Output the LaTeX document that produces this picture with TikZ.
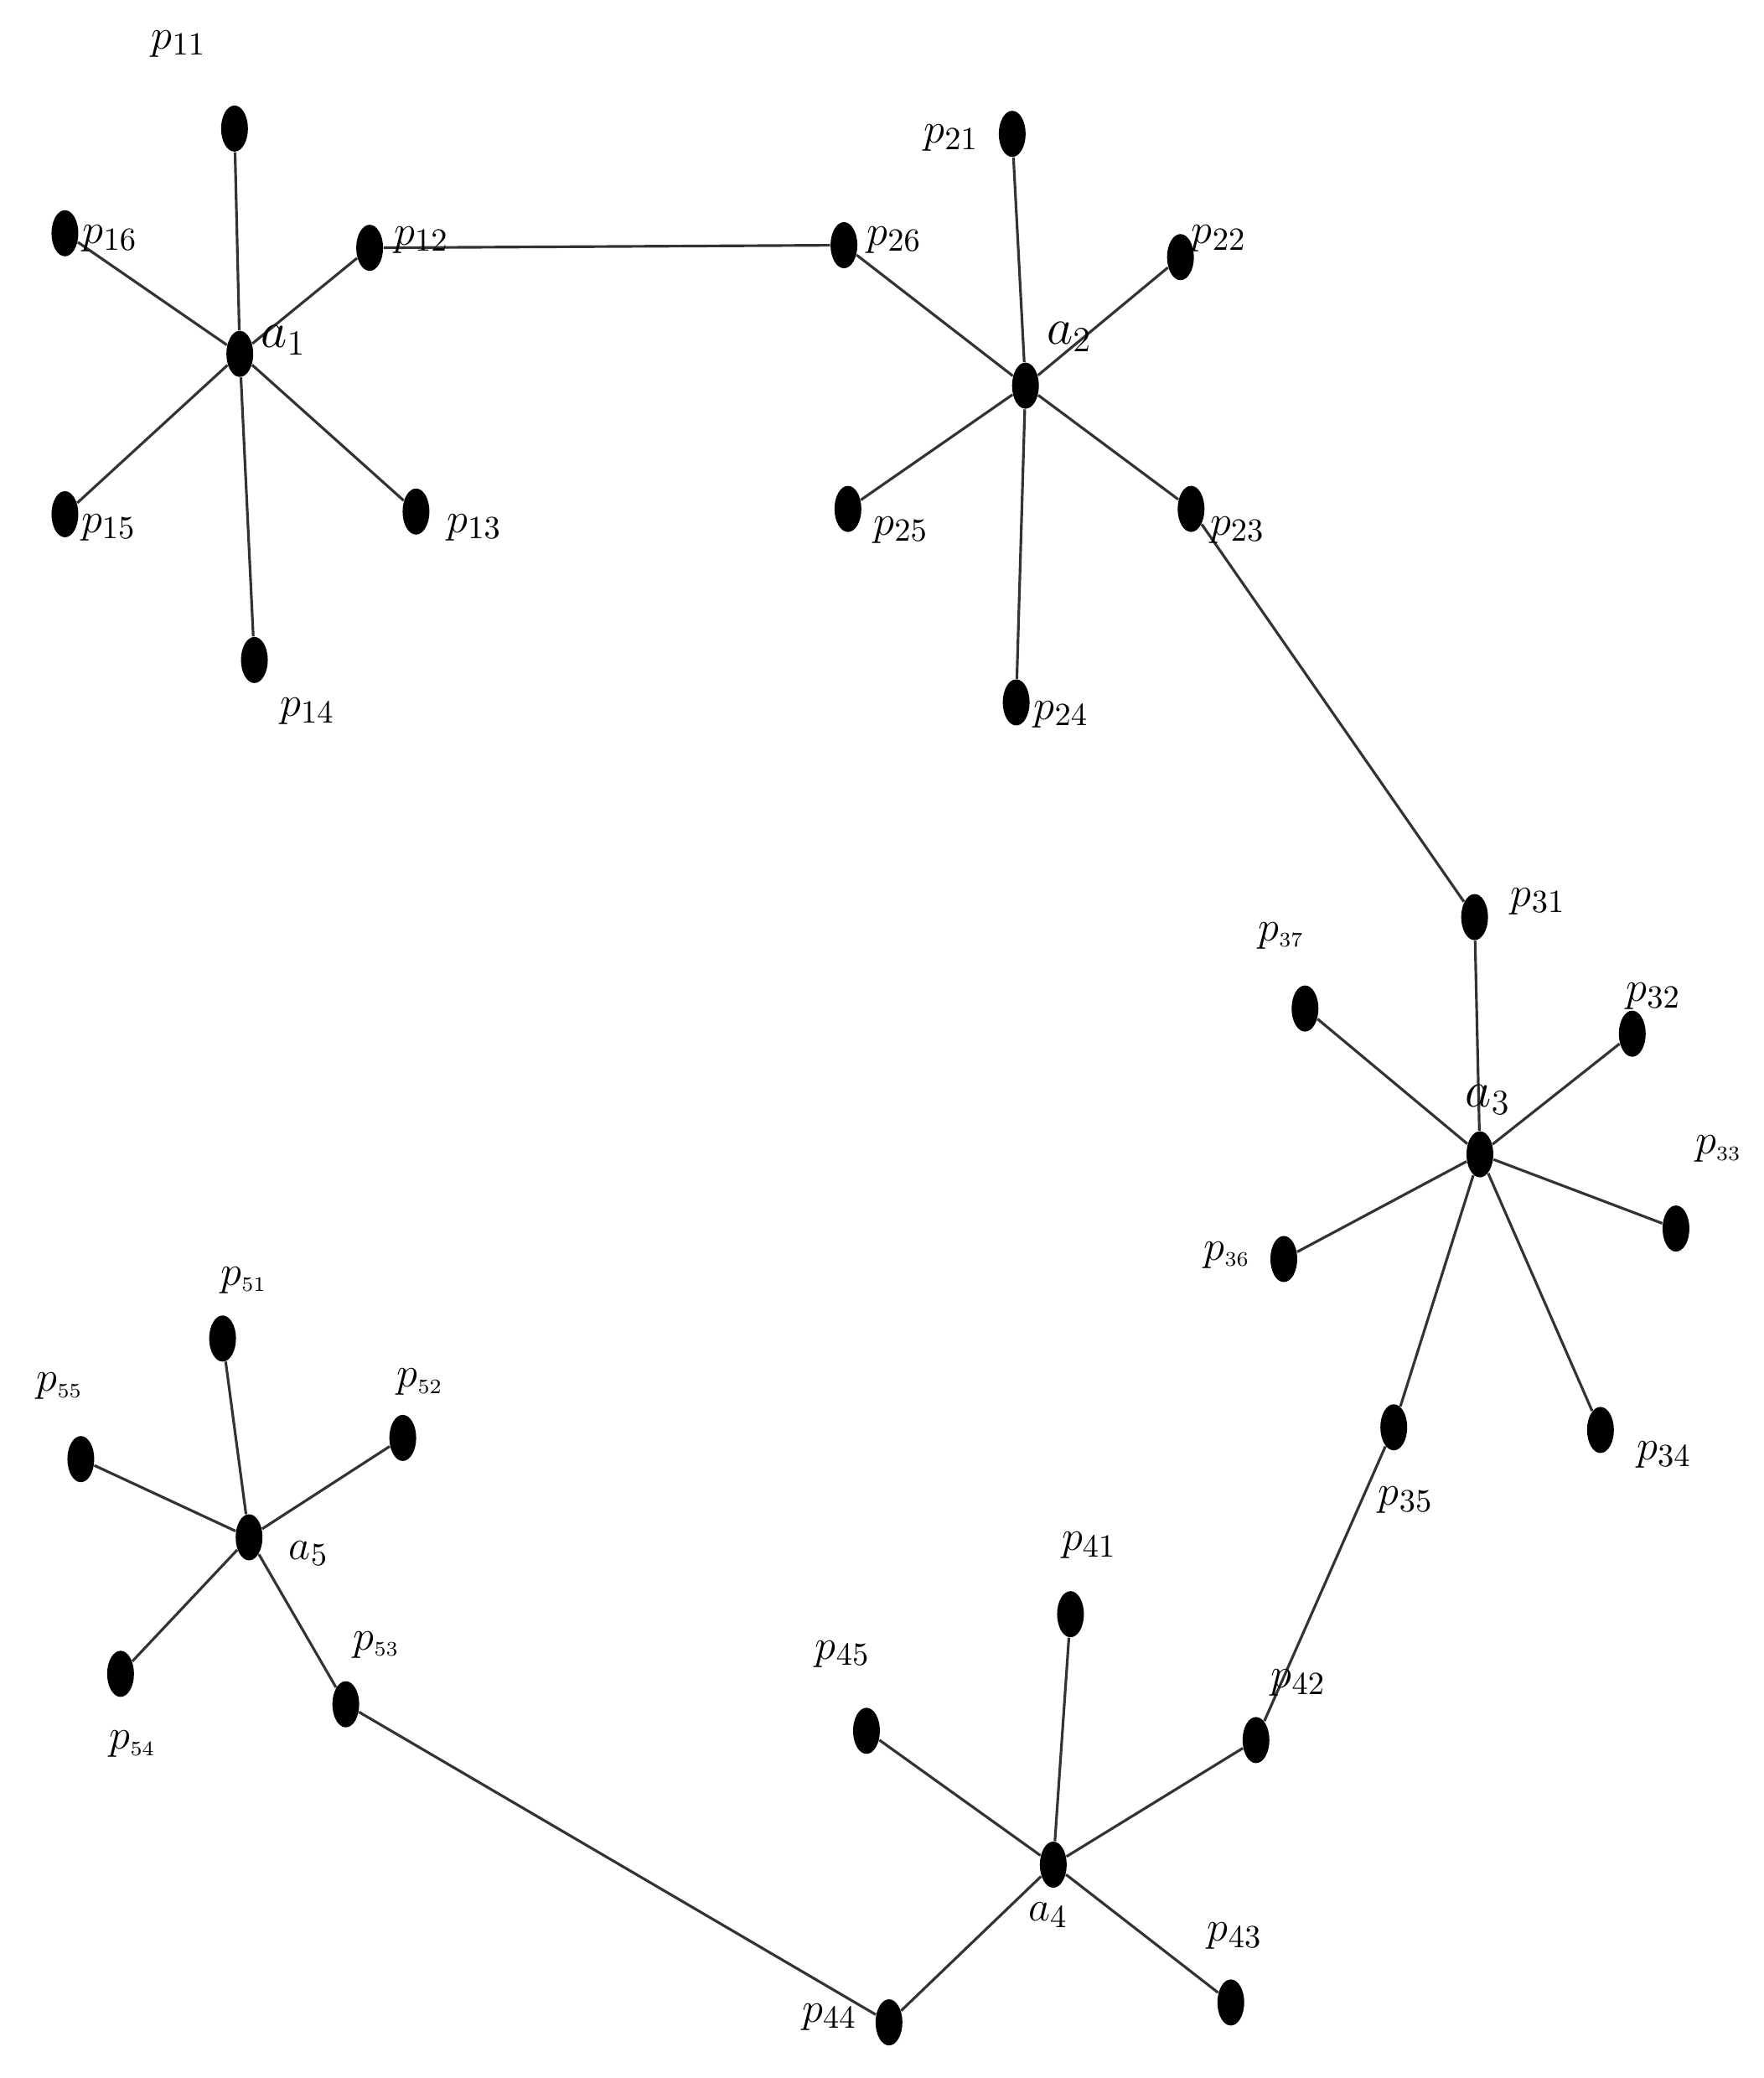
\documentclass[tikz,border=0pt]{standalone}
\usetikzlibrary{shapes.geometric}
\tikzset{
  dot/.style={ellipse,fill=black,draw=none,minimum width=0.32cm,minimum height=0.55cm,inner sep=0pt},
  lbl/.style={font=\fontsize{15}{18}\selectfont,inner sep=0pt},
  albl/.style={font=\fontsize{17}{20}\selectfont,inner sep=0pt},
  edge/.style={line width=0.9pt,black!80}
}
\newcommand{\smallsub}[2]{$#1_{\scriptscriptstyle #2}$}
\begin{document}
\begin{tikzpicture}[x=0.015808cm,y=-0.015808cm]
\useasboundingbox (0,0) rectangle (1331,1568);
% group 1
\node[dot] (a1) at (181,267) {};
\node[dot] (p11) at (177,97) {};
\node[dot] (p12) at (279,187) {};
\node[dot] (p13) at (314,386) {};
\node[dot] (p14) at (192,498) {};
\node[dot] (p15) at (49,388) {};
\node[dot] (p16) at (49,176) {};
% group 2
\node[dot] (a2) at (774,291) {};
\node[dot] (p21) at (764,101) {};
\node[dot] (p22) at (891,194) {};
\node[dot] (p23) at (899,384) {};
\node[dot] (p24) at (767,530) {};
\node[dot] (p25) at (640,384) {};
\node[dot] (p26) at (637,185) {};
% group 3
\node[dot] (a3) at (1117,871) {};
\node[dot] (p31) at (1113,692) {};
\node[dot] (p32) at (1232,780) {};
\node[dot] (p33) at (1265,927) {};
\node[dot] (p34) at (1208,1079) {};
\node[dot] (p35) at (1052,1077) {};
\node[dot] (p36) at (969,950) {};
\node[dot] (p37) at (985,761) {};
% group 4
\node[dot] (a4) at (795,1407) {};
\node[dot] (p41) at (808,1218) {};
\node[dot] (p42) at (948,1313) {};
\node[dot] (p43) at (929,1511) {};
\node[dot] (p44) at (671,1526) {};
\node[dot] (p45) at (654,1306) {};
% group 5
\node[dot] (a5) at (188,1160) {};
\node[dot] (p51) at (168,1010) {};
\node[dot] (p52) at (304,1085) {};
\node[dot] (p53) at (261,1286) {};
\node[dot] (p54) at (91,1263) {};
\node[dot] (p55) at (61,1101) {};
% edges
\foreach \c/\n in {1/6,2/6,3/7,4/5,5/5}{
  \foreach \i in {1,...,\n}{
    \draw[edge] (a\c) -- (p\c\i);
  }
}
\draw[edge] (p12) -- (p26);
\draw[edge] (p23) -- (p31);
\draw[edge] (p35) -- (p42);
\draw[edge] (p44) -- (p53);
% labels
\node[albl] (la1) at (214,257) {$a_1$};
\node[lbl] (l11) at (135,33) {$p_{11}$};
\node[lbl] (l12) at (318,181) {$p_{12}$};
\node[lbl] (l13) at (358,398) {$p_{13}$};
\node[lbl] (l14) at (232,537) {$p_{14}$};
\node[lbl] (l15) at (82,398) {$p_{15}$};
\node[lbl] (l16) at (83,180) {$p_{16}$};
\node[albl] (la2) at (807,254) {$a_2$};
\node[lbl] (l21) at (718,104) {$p_{21}$};
\node[lbl] (l22) at (920,180) {$p_{22}$};
\node[lbl] (l23) at (934,400) {$p_{23}$};
\node[lbl] (l24) at (801,539) {$p_{24}$};
\node[lbl] (l25) at (680,400) {$p_{25}$};
\node[lbl] (l26) at (675,181) {$p_{26}$};
\node[albl] (la3) at (1123,830) {$a_3$};
\node[lbl] (l31) at (1161,680) {$p_{31}$};
\node[lbl] (l32) at (1248,752) {$p_{32}$};
\node[lbl] (l33) at (1297,867) {\smallsub{p}{33}};
\node[lbl] (l34) at (1256,1098) {$p_{34}$};
\node[lbl] (l35) at (1061,1132) {$p_{35}$};
\node[lbl] (l36) at (926,947) {\smallsub{p}{36}};
\node[lbl] (l37) at (967,706) {\smallsub{p}{37}};
\node[lbl] (la4) at (791,1445) {$a_4$};
\node[lbl] (l41) at (822,1166) {$p_{41}$};
\node[lbl] (l42) at (980,1270) {$p_{42}$};
\node[lbl] (l43) at (932,1461) {$p_{43}$};
\node[lbl] (l44) at (626,1522) {$p_{44}$};
\node[lbl] (l45) at (636,1248) {$p_{45}$};
\node[lbl] (la5) at (233,1172) {$a_5$};
\node[lbl] (l51) at (184,966) {\smallsub{p}{51}};
\node[lbl] (l52) at (317,1043) {\smallsub{p}{52}};
\node[lbl] (l53) at (284,1241) {\smallsub{p}{53}};
\node[lbl] (l54) at (100,1316) {\smallsub{p}{54}};
\node[lbl] (l55) at (45,1046) {\smallsub{p}{55}};
\end{tikzpicture}
\end{document}
